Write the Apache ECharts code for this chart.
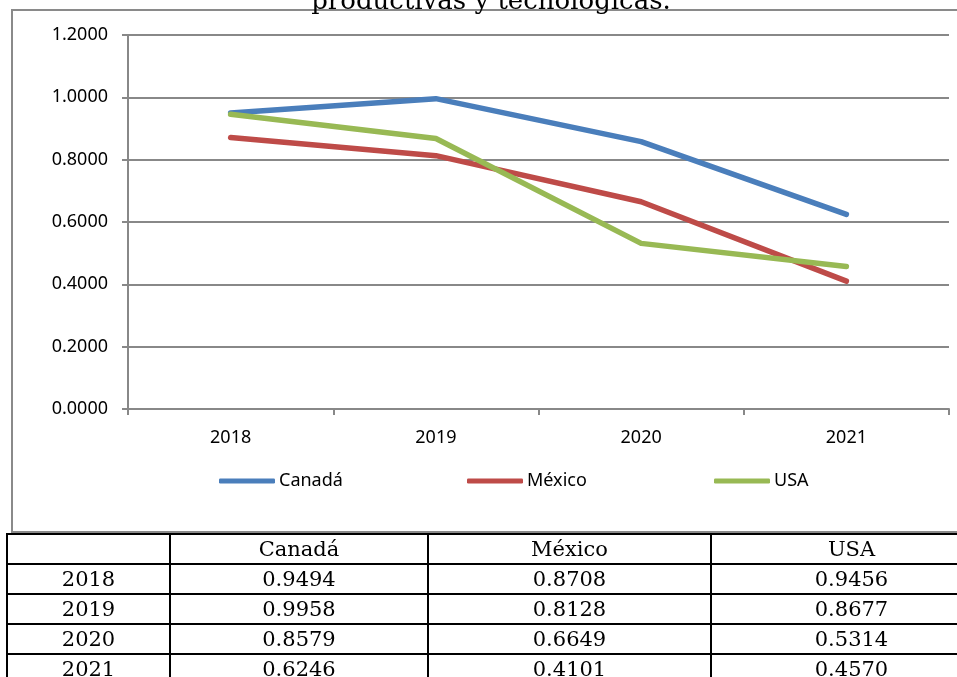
<!DOCTYPE html>
<html>
<head>
<meta charset="utf-8">
<script src="https://cdn.jsdelivr.net/npm/echarts@6/dist/echarts.min.js"></script>
<style>
  html, body { margin: 0; padding: 0; width: 957px; height: 677px; overflow: hidden; background: #fff; }
  #frame { position: absolute; left: 11px; top: 9px; width: 1000px; height: 520px; border: 2px solid #8a8a8a; }
  #chart { position: absolute; left: 0; top: 0; width: 957px; height: 534px; }
  #tbl { position: absolute; left: 6px; top: 533px; width: 985px; border-collapse: collapse; table-layout: fixed;
         font-family: "DejaVu Serif", serif; font-size: 21px; color: #000; }
  #tbl td { border: 2px solid #000; text-align: center; padding: 0; height: 28px; line-height: 28px; overflow: hidden; white-space: nowrap; }
</style>
</head>
<body>
<div id="frame"></div>
<div id="chart"></div>
<table id="tbl"></table>
<script>
// data
var years = ['2018', '2019', '2020', '2021']
var canada = [0.9494, 0.9958, 0.8579, 0.6246]
var mexico = [0.8708, 0.8128, 0.6649, 0.4101]
var usa = [0.9456, 0.8677, 0.5314, 0.4570]
var seriesNames = ['Canadá', 'México', 'USA']
var seriesColors = ['#4a7ebb', '#be4b48', '#98b954']
var titleLine = 'productivas y tecnológicas.'

var values = [canada, mexico, usa]

// table under the chart
var tbl = document.getElementById('tbl')
var colWidths = [163, 258, 283, 281]
var cg = document.createElement('colgroup')
colWidths.forEach(function(w) {
  var c = document.createElement('col')
  c.style.width = w + 'px'
  cg.appendChild(c)
})
tbl.appendChild(cg)
var head = document.createElement('tr')
head.appendChild(document.createElement('td'))
seriesNames.forEach(function(n) {
  var td = document.createElement('td')
  td.textContent = n
  head.appendChild(td)
})
tbl.appendChild(head)
years.forEach(function(y, i) {
  var tr = document.createElement('tr')
  var td0 = document.createElement('td')
  td0.textContent = y
  tr.appendChild(td0)
  values.forEach(function(arr) {
    var td = document.createElement('td')
    td.textContent = arr[i].toFixed(4)
    tr.appendChild(td)
  })
  tbl.appendChild(tr)
})

var chart = echarts.init(document.getElementById('chart'))
var font = 'Noto Sans'
var legendLefts = [219, 467, 714]

chart.setOption({
  animation: false,
  graphic: [{
    type: 'text',
    x: 491,
    y: 2,
    style: {
      text: titleLine,
      fontFamily: 'DejaVu Serif',
      fontSize: 26,
      fill: '#000',
      textAlign: 'center',
      textVerticalAlign: 'middle'
    }
  }],
  grid: {
    left: 128,
    top: 35,
    width: 821,
    height: 374,
    containLabel: false
  },
  legend: seriesNames.map(function(n, i) {
    return {
      data: [n],
      left: legendLefts[i],
      top: 472,
      padding: 0,
      icon: 'roundRect',
      itemWidth: 56,
      itemHeight: 5,
      textStyle: { fontFamily: font, fontSize: 18, color: '#000', padding: [0, 0, 0, -1] }
    }
  }),
  xAxis: {
    type: 'category',
    data: years,
    boundaryGap: true,
    axisLine: { lineStyle: { color: '#888', width: 2 } },
    axisTick: { show: true, length: 6, lineStyle: { color: '#888', width: 2 } },
    axisLabel: { fontFamily: font, fontSize: 18, color: '#000', margin: 20 }
  },
  yAxis: {
    type: 'value',
    min: 0,
    max: 1.2,
    interval: 0.2,
    axisLine: { show: true, lineStyle: { color: '#888', width: 2 } },
    axisTick: { show: true, length: 6, lineStyle: { color: '#888', width: 2 } },
    splitLine: { lineStyle: { color: '#888', width: 2 } },
    axisLabel: {
      fontFamily: font, fontSize: 18, color: '#000', margin: 20,
      formatter: function(v) { return v.toFixed(4) }
    }
  },
  series: seriesNames.map(function(n, i) {
    return {
      name: n,
      type: 'line',
      data: values[i],
      symbol: 'none',
      color: seriesColors[i],
      lineStyle: { width: 5.5, color: seriesColors[i], cap: 'round', join: 'round' }
    }
  })
})
</script>
</body>
</html>
